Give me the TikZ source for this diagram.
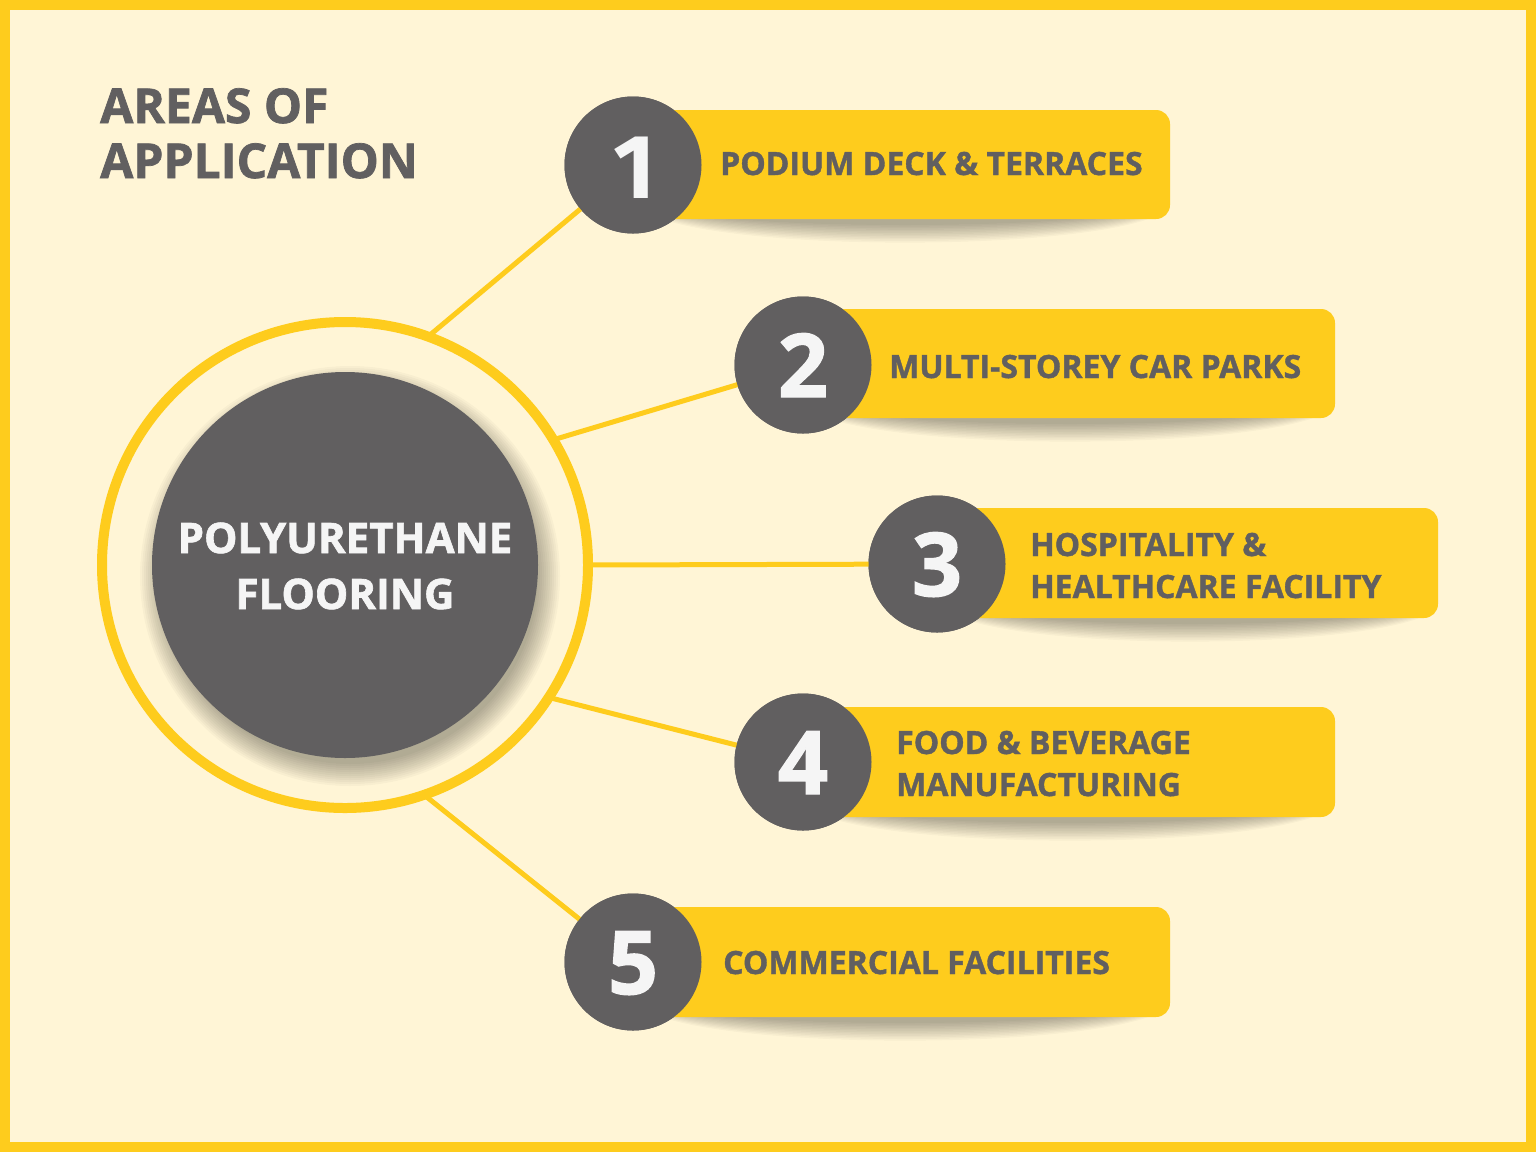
\documentclass[tikz,border=0pt]{standalone}
\usepackage{fontspec}
\setmainfont{Open Sans}
\newfontfamily\barfont{Open Sans}[BoldFeatures={FakeBold=1.2}]
\newfontfamily\headfont{Open Sans}[BoldFeatures={FakeBold=1.5}]
\newfontfamily\onefont{Fira Sans}
\definecolor{yel}{HTML}{FECC1D}
\definecolor{gry}{HTML}{615F60}
\definecolor{cream}{HTML}{FFF5D6}
\definecolor{wht}{HTML}{F5F5F5}
\tikzset{
  conn/.style={yel, line width=5pt},
  numcirc/.style={circle, fill=gry, minimum size=137pt, inner sep=0pt},
  barbox/.style={fill=yel, rounded corners=14pt},
  shadowlayer/.style={fill=black, fill opacity=0.026},
  bartext/.style={anchor=base west, inner sep=0pt, text=gry, font=\barfont\bfseries\fontsize{32}{42}\selectfont, align=left},
  digit/.style={anchor=base, inner sep=0pt, text=wht, font=\headfont\bfseries\fontsize{88}{88}\selectfont},
}
\begin{document}
\begin{tikzpicture}[x=1pt,y=-1pt]
\useasboundingbox (0,0) rectangle (1536,1152);
\fill[yel] (0,0) rectangle (1536,1152);
\fill[cream] (10,10) rectangle (1526,1142);
% title
\node[anchor=base west, inner sep=0pt, text=gry, align=left, font=\headfont\bfseries\fontsize{48}{55}\selectfont] (title) at (100,178) {AREAS OF\\APPLICATION};
% ring and centre
\node[circle, minimum size=486pt, inner sep=0pt] (ring) at (345,565) {};
\node[numcirc] (n1) at (633,165) {};
\node[numcirc] (n2) at (803,365) {};
\node[numcirc] (n3) at (937,564) {};
\node[numcirc] (n4) at (803,762) {};
\node[numcirc] (n5) at (633,962) {};
\draw[conn] (ring.70) -- (n1.center);
\draw[conn] (ring.31) -- (n2.center);
\draw[conn] (ring.0) -- (n3.center);
\draw[conn] (ring.-33) -- (n4.center);
\draw[conn] (ring.-71) -- (n5.center);
\draw[yel, line width=10pt] (ring.center) circle[radius=243pt];
% shadow of the core circle
\foreach \i in {0,...,11}{
  \fill[shadowlayer] (350,576) circle[radius=188pt+2pt*\i];
}
\node[circle, fill=gry, minimum size=386pt, inner sep=0pt] (core) at (345,565) {};
\node[anchor=base, inner sep=0pt, text=wht, align=center, font=\headfont\bfseries\fontsize{42}{56}\selectfont] (coretext) at (345,609) {POLYURETHANE\\FLOORING};
% bar shadows
\foreach \cx/\by/\rx in {905/219/240, 1070/418/240, 1190/618/225, 1070/817/240, 905/1017/240}{
  \foreach \i in {0,...,11}{
    \fill[shadowlayer] (\cx,\by-14) ellipse[x radius=\rx pt+2pt*\i, y radius=20pt+1.6pt*\i];
  }
}
% bars
\path[barbox] (633,110) rectangle (1170,219);
\path[barbox] (803,309) rectangle (1335,418);
\path[barbox] (937,508) rectangle (1438,618);
\path[barbox] (803,707) rectangle (1335,817);
\path[barbox] (633,907) rectangle (1170,1017);
% number circles on top
\foreach \n/\x/\y in {1/633/165, 2/803/365, 3/937/564, 4/803/762, 5/633/962}{
  \node[numcirc] at (\x,\y) {};
}
\node[digit, font=\onefont\bfseries\fontsize{91}{91}\selectfont] (d1) at (635,198) {1};
\node[digit] (d2) at (803,397) {2};
\node[digit] (d3) at (937,596) {3};
\node[digit] (d4) at (803,794) {4};
\node[digit] (d5) at (633,994) {5};
% bar texts
\node[bartext] (t1) at (720,175) {PODIUM DECK \& TERRACES};
\node[bartext] (t2) at (889,378) {MULTI-STOREY CAR PARKS};
\node[bartext] (t3) at (1030,598) {HOSPITALITY \&\\HEALTHCARE FACILITY};
\node[bartext] (t4) at (896,796) {FOOD \& BEVERAGE\\MANUFACTURING};
\node[bartext] (t5) at (723,974) {COMMERCIAL FACILITIES};
\end{tikzpicture}
\end{document}
